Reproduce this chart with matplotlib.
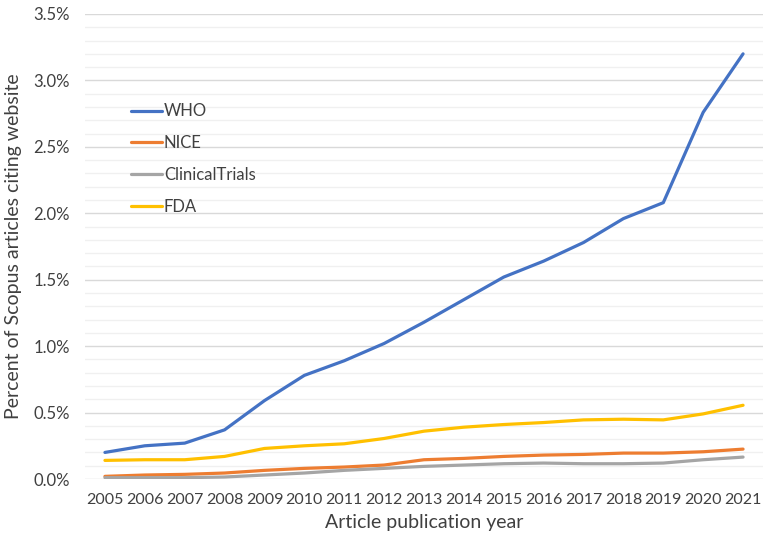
import matplotlib.pyplot as plt
from matplotlib.ticker import MultipleLocator, FuncFormatter

years = list(range(2005, 2022))
who = [0.20, 0.25, 0.27, 0.37, 0.59, 0.78, 0.89, 1.02, 1.18, 1.35, 1.52, 1.64, 1.78, 1.96, 2.08, 2.76, 3.20]
nice = [0.02, 0.03, 0.035, 0.045, 0.065, 0.08, 0.09, 0.105, 0.145, 0.155, 0.17, 0.18, 0.185, 0.195, 0.195, 0.205, 0.225]
clinical = [0.01, 0.01, 0.01, 0.015, 0.03, 0.045, 0.065, 0.08, 0.095, 0.105, 0.115, 0.12, 0.115, 0.115, 0.12, 0.145, 0.165]
fda = [0.14, 0.145, 0.145, 0.17, 0.23, 0.25, 0.265, 0.305, 0.36, 0.39, 0.41, 0.425, 0.445, 0.45, 0.445, 0.49, 0.555]

plt.rcParams['font.family'] = ['Lato', 'DejaVu Sans']

fig = plt.figure(figsize=(7.63, 5.41), dpi=100)
ax = fig.add_axes([85/763, 1-479/541, 678/763, 465/541])

ax.plot(years, who, color='#4472C4', lw=2.3, label='WHO', solid_capstyle='round')
ax.plot(years, nice, color='#ED7D31', lw=2.3, label='NICE', solid_capstyle='round')
ax.plot(years, clinical, color='#A5A5A5', lw=2.3, label='ClinicalTrials', solid_capstyle='round')
ax.plot(years, fda, color='#FFC000', lw=2.3, label='FDA', solid_capstyle='round')

ax.set_xlim(2004.5, 2021.5)
ax.set_ylim(0, 3.5)
ax.set_xticks(years)
ax.yaxis.set_major_locator(MultipleLocator(0.5))
ax.yaxis.set_minor_locator(MultipleLocator(0.1))
ax.yaxis.set_major_formatter(FuncFormatter(lambda v, p: '%.1f%%' % v))
ax.grid(which='major', axis='y', color='#D9D9D9', lw=1.0)
ax.grid(which='minor', axis='y', color='#F0F0F0', lw=1.0)
ax.set_axisbelow(True)
for s in ax.spines.values():
    s.set_visible(False)
ax.tick_params(axis='both', which='both', length=0, labelsize=11.5, colors='#404040')
ax.tick_params(axis='y', pad=11, labelsize=12)
ax.tick_params(axis='x', pad=10)

ax.set_xlabel('Article publication year', fontsize=14, color='#404040', labelpad=5)
ax.set_ylabel('Percent of Scopus articles citing website', fontsize=14, color='#404040', labelpad=8)

ax.legend(loc='upper left', bbox_to_anchor=(0.045, 0.84), frameon=False, fontsize=12,
          handlelength=1.9, handletextpad=0.1, labelspacing=0.95, labelcolor='#404040')

fig.savefig('out.png', dpi=100)
